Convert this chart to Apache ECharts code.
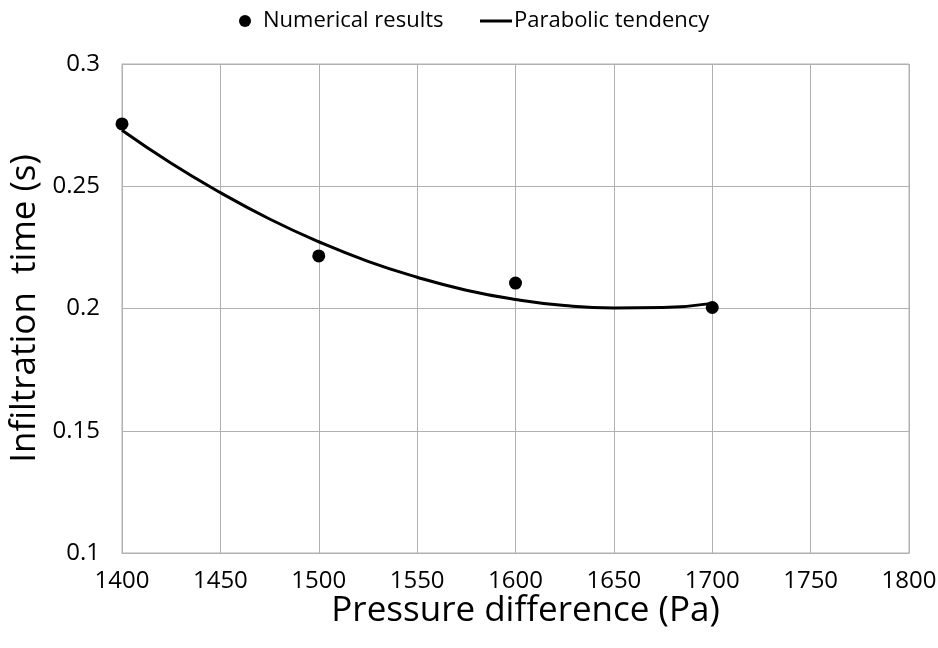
<!DOCTYPE html>
<html>
<head>
<meta charset="utf-8">
<script src="https://cdn.jsdelivr.net/npm/echarts@6/dist/echarts.min.js"></script>
<style>
  html, body { margin: 0; padding: 0; background: #fff; }
  #chart { width: 938px; height: 648px; }
</style>
</head>
<body>
<div id="chart"></div>
<script>
// Simulated infiltration time against pressure difference
const pressure = [1400, 1500, 1600, 1700];
const infiltrationTime = [0.2755, 0.2215, 0.2104, 0.2004];

// Parabolic trend line sampled every 25 Pa
const trendPressure = [1400, 1425, 1450, 1475, 1500, 1525, 1550, 1575, 1600, 1625, 1650, 1675, 1700];
const trendTime = [0.2729, 0.2594, 0.2474, 0.2366, 0.2273, 0.2193, 0.2128, 0.2075, 0.2037, 0.2012, 0.2002, 0.2004, 0.2021];

const xTicks = { min: 1400, max: 1800, step: 50 };
const yTicks = { min: 0.1, max: 0.3, step: 0.05 };

const FONT = '"Open Sans", "Noto Sans", sans-serif';
const GRID_COLOR = '#b0b0b0';
const chart = echarts.init(document.getElementById('chart'));

chart.setOption({
  animation: false,
  textStyle: { fontFamily: FONT },
  grid: {
    left: 122, right: 29, top: 64, bottom: 95,
    outerBoundsMode: 'none', containLabel: false,
    show: true, borderColor: GRID_COLOR, borderWidth: 1
  },
  legend: [
    {
      data: [{ name: 'Numerical results', icon: 'circle' }],
      left: 239, top: 10, padding: 0,
      itemWidth: 12, itemHeight: 12, itemGap: 0,
      textStyle: { fontSize: 22, color: '#000', fontFamily: FONT, padding: [0, 0, 0, 7] }
    },
    {
      data: [{ name: 'Parabolic tendency', icon: 'rect' }],
      left: 480, top: 10, padding: 0,
      itemWidth: 32, itemHeight: 3, itemGap: 0,
      textStyle: { fontSize: 22, color: '#000', fontFamily: FONT, padding: [0, 0, 0, -3] }
    }
  ],
  xAxis: {
    type: 'value',
    min: xTicks.min, max: xTicks.max, interval: xTicks.step,
    name: 'Pressure difference (Pa)',
    nameLocation: 'middle', nameGap: 41, nameMoveOverlap: false,
    nameTextStyle: { fontSize: 35, color: '#000', fontFamily: FONT, padding: [0, 0, 0, 20] },
    axisLine: { show: true, lineStyle: { color: GRID_COLOR } },
    axisTick: { show: false },
    axisLabel: { fontSize: 24, color: '#000', margin: 16, fontFamily: FONT,
                 formatter: v => String(v) },
    splitLine: { show: true, lineStyle: { color: GRID_COLOR, width: 1 } }
  },
  yAxis: {
    type: 'value',
    min: yTicks.min, max: yTicks.max, interval: yTicks.step,
    name: 'Infiltration  time (s)',
    nameLocation: 'middle', nameGap: 79, nameMoveOverlap: false,
    nameTextStyle: { fontSize: 35, color: '#000', fontFamily: FONT },
    axisLine: { show: true, lineStyle: { color: GRID_COLOR } },
    axisTick: { show: false },
    axisLabel: { fontSize: 24, color: '#000', margin: 22, align: 'right', fontFamily: FONT,
                 formatter: v => String(+v.toFixed(2)) },
    splitLine: { show: true, lineStyle: { color: GRID_COLOR, width: 1 } }
  },
  series: [
    {
      name: 'Numerical results',
      type: 'scatter',
      symbol: 'circle',
      symbolSize: 13,
      itemStyle: { color: '#000', opacity: 1 },
      data: pressure.map((p, i) => [p, infiltrationTime[i]]),
      z: 3
    },
    {
      name: 'Parabolic tendency',
      type: 'line',
      smooth: true,
      showSymbol: false,
      symbol: 'none',
      lineStyle: { color: '#000', width: 3 },
      itemStyle: { color: '#000' },
      data: trendPressure.map((p, i) => [p, trendTime[i]]),
      z: 2
    }
  ]
});
</script>
</body>
</html>
